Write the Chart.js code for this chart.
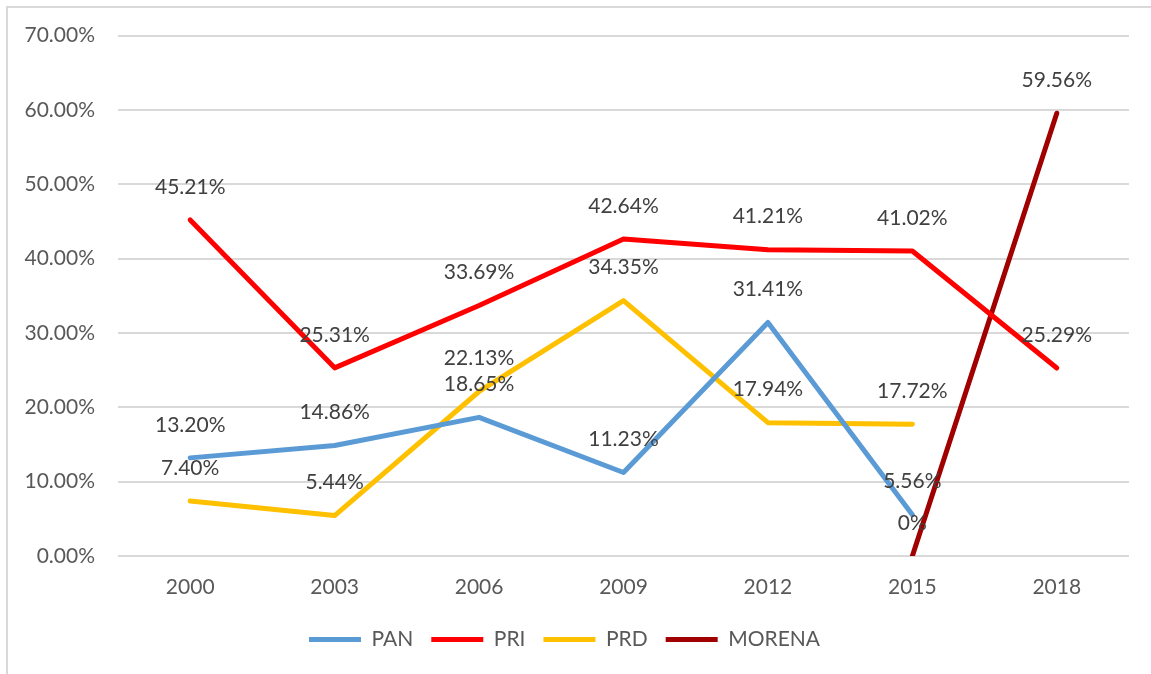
<!DOCTYPE html>
<html>
<head>
<meta charset="utf-8">
<script src="https://cdn.jsdelivr.net/npm/chart.js@4.4.0/dist/chart.umd.min.js"></script>
<style>
html,body{margin:0;padding:0;background:#fff;overflow:hidden;}
#frame{position:absolute;left:6px;top:6px;width:1160px;height:690px;border:2px solid #d9d9d9;box-sizing:border-box;}
#wrap{position:absolute;left:0;top:0;width:1151px;height:674px;}
</style>
</head>
<body>
<div id="frame"></div>
<div id="wrap"><canvas id="c" width="1151" height="674"></canvas></div>
<script>
const categories = ['2000','2003','2006','2009','2012','2015','2018'];
const pan    = [13.20, 14.86, 18.65, 11.23, 31.41, 5.56, null];
const pri    = [45.21, 25.31, 33.69, 42.64, 41.21, 41.02, 25.29];
const prd    = [7.40, 5.44, 22.13, 34.35, 17.94, 17.72, null];
const morena = [null, null, null, null, null, 0, 59.56];
const yTicks = [0, 10, 20, 30, 40, 50, 60, 70];

const FONT = 'Lato, "Open Sans", sans-serif';

function fmt(v){ return v === 0 ? '0%' : v.toFixed(2) + '%'; }

const labelPlugin = {
  id: 'pointLabels',
  afterDatasetsDraw(chart){
    const ctx = chart.ctx;
    ctx.save();
    ctx.font = '21px ' + FONT;
    ctx.fillStyle = '#404040';
    ctx.textAlign = 'center';
    ctx.textBaseline = 'middle';
    chart.data.datasets.forEach((ds, i) => {
      const meta = chart.getDatasetMeta(i);
      meta.data.forEach((pt, j) => {
        const v = ds.data[j];
        if (v === null || v === undefined) return;
        ctx.fillText(fmt(v), pt.x, pt.y - 33);
      });
    });
    ctx.restore();
  }
};

const common = {borderWidth: 5, pointRadius: 0, pointHoverRadius: 0, tension: 0, fill: false,
  borderCapStyle: 'round', borderJoinStyle: 'round', spanGaps: false};

new Chart(document.getElementById('c'), {
  type: 'line',
  data: {
    labels: categories,
    datasets: [
      Object.assign({label: 'PAN', data: pan, borderColor: '#5B9BD5', backgroundColor: '#5B9BD5'}, common),
      Object.assign({label: 'PRI', data: pri, borderColor: '#FF0000', backgroundColor: '#FF0000'}, common),
      Object.assign({label: 'PRD', data: prd, borderColor: '#FFC000', backgroundColor: '#FFC000'}, common),
      Object.assign({label: 'MORENA', data: morena, borderColor: '#A00000', backgroundColor: '#A00000'}, common)
    ]
  },
  options: {
    responsive: false,
    animation: false,
    events: [],
    layout: {padding: {top: 28, right: 22, left: 0, bottom: 14}},
    plugins: {
      tooltip: {enabled: false},
      legend: {
        position: 'bottom',
        labels: {
          usePointStyle: true,
          pointStyle: 'line',
          pointStyleWidth: 52,
          boxHeight: 20,
          padding: 18,
          color: '#595959',
          font: {family: FONT, size: 21}
        }
      }
    },
    scales: {
      x: {
        offset: true,
        afterFit(axis){ axis.height = 55; },
        grid: {display: false, drawTicks: false},
        border: {display: false},
        ticks: {color: '#595959', font: {family: FONT, size: 21}, padding: 19}
      },
      y: {
        min: 0, max: 70,
        afterBuildTicks(axis){ axis.ticks = yTicks.map(v => ({value: v})); },
        afterFit(axis){ axis.width = 118; },
        grid: {color: '#d9d9d9', lineWidth: 2, drawTicks: false},
        border: {display: false},
        ticks: {color: '#595959', font: {family: FONT, size: 21}, padding: 23,
          callback: v => v.toFixed(2) + '%'}
      }
    }
  },
  plugins: [labelPlugin]
});
</script>
</body>
</html>
